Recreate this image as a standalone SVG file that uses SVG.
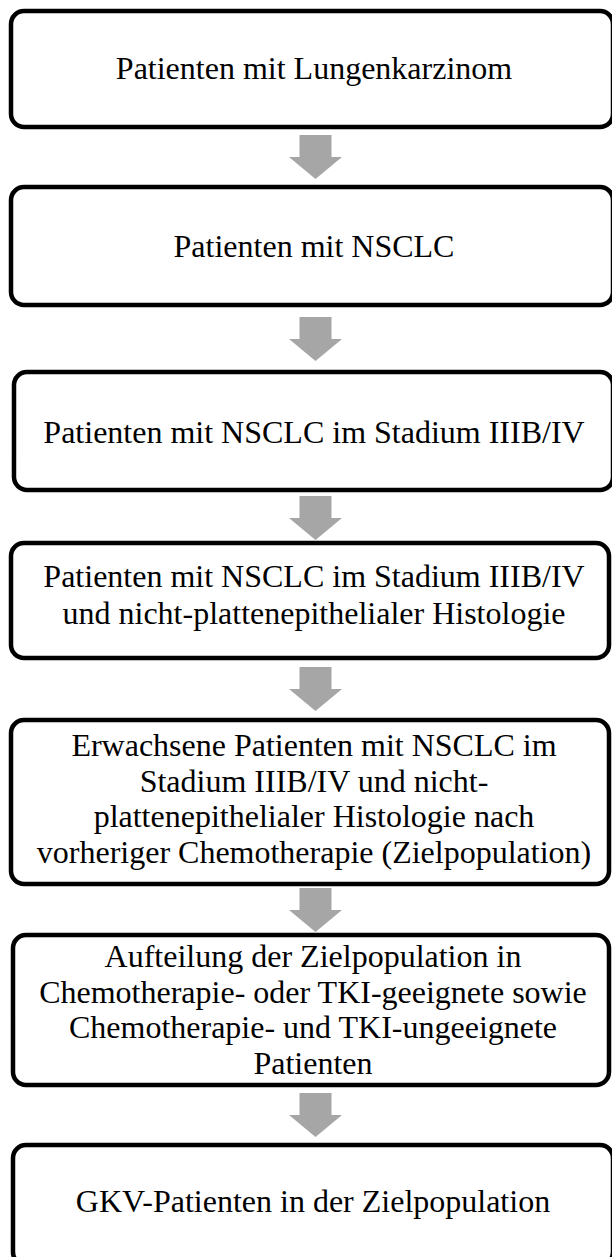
<svg xmlns="http://www.w3.org/2000/svg" xmlns:xlink="http://www.w3.org/1999/xlink" width="612" height="1257" viewBox="0 0 612 1257">
  <style>
    .box { fill: #ffffff; stroke: #000000; stroke-width: 4.5; }
    .lbl { font-family: "Liberation Serif", "Times New Roman", serif; font-size: 32px; fill: #000000; text-anchor: middle; }
    .arr { fill: #a6a6a6; stroke: none; }
  </style>
  <defs>
    <path id="downArrow" class="arr" d="M -16 0 H 16 V 22 H 26.5 L 0 44 L -26.5 22 H -16 Z"/>
  </defs>
  <rect width="612" height="1257" fill="#ffffff"/>

  <g id="connectors">
    <use xlink:href="#downArrow" href="#downArrow" transform="translate(315.5,135)"/>
    <use xlink:href="#downArrow" href="#downArrow" transform="translate(315.5,317)"/>
    <use xlink:href="#downArrow" href="#downArrow" transform="translate(315.5,496)"/>
    <use xlink:href="#downArrow" href="#downArrow" transform="translate(315.5,667)"/>
    <use xlink:href="#downArrow" href="#downArrow" transform="translate(315.5,888)"/>
    <use xlink:href="#downArrow" href="#downArrow" transform="translate(315.5,1093)"/>
  </g>

  <g id="node1">
    <rect class="box" x="11" y="11" width="602" height="116" rx="13" ry="13"/>
    <text class="lbl" x="314" y="79">Patienten mit Lungenkarzinom</text>
  </g>

  <g id="node2">
    <rect class="box" x="11" y="187" width="602" height="118" rx="13" ry="13"/>
    <text class="lbl" x="314" y="257">Patienten mit NSCLC</text>
  </g>

  <g id="node3">
    <rect class="box" x="14" y="372" width="599" height="118" rx="13" ry="13"/>
    <text class="lbl" x="314" y="443">Patienten mit NSCLC im Stadium IIIB/IV</text>
  </g>

  <g id="node4">
    <rect class="box" x="11" y="543" width="598" height="115" rx="13" ry="13"/>
    <text class="lbl" x="314" y="587">Patienten mit NSCLC im Stadium IIIB/IV</text>
    <text class="lbl" x="314" y="624">und nicht-plattenepithelialer Histologie</text>
  </g>

  <g id="node5">
    <rect class="box" x="11" y="720" width="598" height="164" rx="13" ry="13"/>
    <text class="lbl" x="314" y="756">Erwachsene Patienten mit NSCLC im</text>
    <text class="lbl" x="314" y="791.5">Stadium IIIB/IV und nicht-</text>
    <text class="lbl" x="314" y="827">plattenepithelialer Histologie nach</text>
    <text class="lbl" x="314" y="862.5">vorheriger Chemotherapie (Zielpopulation)</text>
  </g>

  <g id="node6">
    <rect class="box" x="13" y="935" width="596" height="150" rx="13" ry="13"/>
    <text class="lbl" x="313" y="967">Aufteilung der Zielpopulation in</text>
    <text class="lbl" x="313" y="1002.5">Chemotherapie- oder TKI-geeignete sowie</text>
    <text class="lbl" x="313" y="1038">Chemotherapie- und TKI-ungeeignete</text>
    <text class="lbl" x="313" y="1073.5">Patienten</text>
  </g>

  <g id="node7">
    <rect class="box" x="13" y="1145" width="600" height="120" rx="13" ry="13"/>
    <text class="lbl" x="313" y="1212">GKV-Patienten in der Zielpopulation</text>
  </g>
</svg>
